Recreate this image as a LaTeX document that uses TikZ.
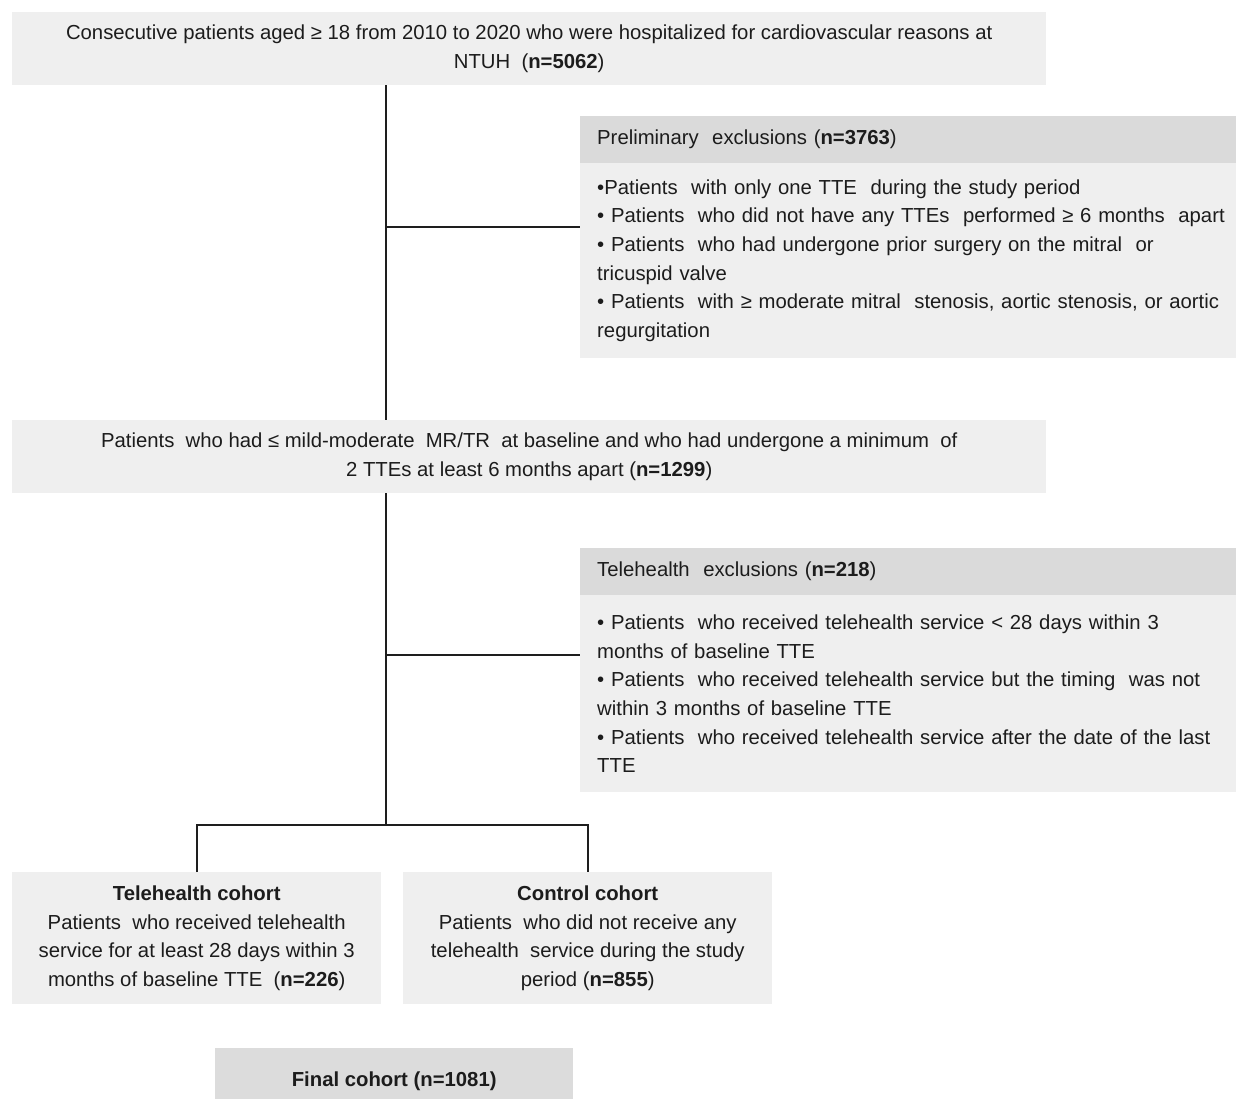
\documentclass[tikz,border=0pt]{standalone}
\usepackage{fontspec}
\setmainfont{Liberation Sans}
\usepackage{tikz}
\usetikzlibrary{positioning,calc}
\hyphenpenalty=10000
\exhyphenpenalty=10000

\begin{document}
\begin{tikzpicture}[
  x=1pt,y=-1pt,
  font=\fontsize{20.3}{28.7}\selectfont,
  box/.style={fill=#1,inner sep=0pt,anchor=north west,align=center,text=txtGray},
  exhead/.style={fill=headGray,inner xsep=17pt,inner ysep=0pt,anchor=north west,minimum height=47pt,text width=650pt,align=left,text=txtGray},
  exbody/.style={fill=boxGray,inner xsep=17pt,inner ysep=0pt,anchor=north west,text width=650pt,align=left,text=txtGray},
  link/.style={draw=lineGray,line width=1.6pt},
]
\definecolor{boxGray}{HTML}{EFEFEF}
\definecolor{headGray}{HTML}{DADADA}
\definecolor{finGray}{HTML}{DCDCDC}
\definecolor{txtGray}{HTML}{1C1C1C}
\definecolor{lineGray}{HTML}{1E1E1E}

\clip (0,0) rectangle (1236,1099);
\fill[white] (0,0) rectangle (1236,1099);

% main column
\node[box=boxGray,minimum width=1034pt,minimum height=73pt] (start) at (12,12) {Consecutive patients aged ≥ 18 from 2010 to 2020 who were hospitalized for cardiovascular reasons at\\NTUH \ (\textbf{n=5062})};
\node[box=boxGray,minimum width=1034pt,minimum height=73pt] (mid) at (12,420) {Patients \ who had ≤ mild-moderate \ MR/TR \ at baseline and who had undergone a minimum \ of\\2 TTEs at least 6 months apart (\textbf{n=1299})};

% exclusions
\node[exhead] (prehead) at (580,116) {Preliminary \ exclusions (\textbf{n=3763})};
\node[exbody,minimum height=195pt] (prebody) at (580,163) {•Patients \ with only one TTE \ during the study period\\• Patients \ who did not have any TTEs \ performed ≥ 6 months \ apart\\• Patients \ who had undergone prior surgery on the mitral \ or\\tricuspid valve\\• Patients \ with ≥ moderate mitral \ stenosis, aortic stenosis, or aortic\\regurgitation};
\node[exhead] (telehead) at (580,548) {Telehealth \ exclusions (\textbf{n=218})};
\node[exbody,minimum height=197pt] (telebody) at (580,595) {• Patients \ who received telehealth service < 28 days within 3\\months of baseline TTE\\• Patients \ who received telehealth service but the timing \ was not\\within 3 months of baseline TTE\\• Patients \ who received telehealth service after the date of the last\\TTE};

% cohorts
\node[box=boxGray,minimum width=369pt,minimum height=132pt] (tele) at (12,872) {\textbf{Telehealth cohort}\\Patients \ who received telehealth\\service for at least 28 days within 3\\months of baseline TTE \ (\textbf{n=226})};
\node[box=boxGray,minimum width=369pt,minimum height=132pt] (ctrl) at (403,872) {\textbf{Control cohort}\\Patients \ who did not receive any\\telehealth \ service during the study\\period (\textbf{n=855})};
\node[box=finGray,minimum width=358pt,minimum height=66pt] (final) at (215,1048) {\textbf{Final cohort (n=1081)}};

% connectors
\coordinate (j1) at (386,227);
\coordinate (j2) at (386,655);
\coordinate (split) at (386,825);
\draw[link] (j1 |- start.south) -- (j1 |- mid.north);
\draw[link] (j1) -- (j1 -| prebody.west);
\draw[link] (j2 |- mid.south) -- (split);
\draw[link] (j2) -- (j2 -| telebody.west);
\draw[link] (tele.north) |- (split) -| (ctrl.north);
\end{tikzpicture}
\end{document}
